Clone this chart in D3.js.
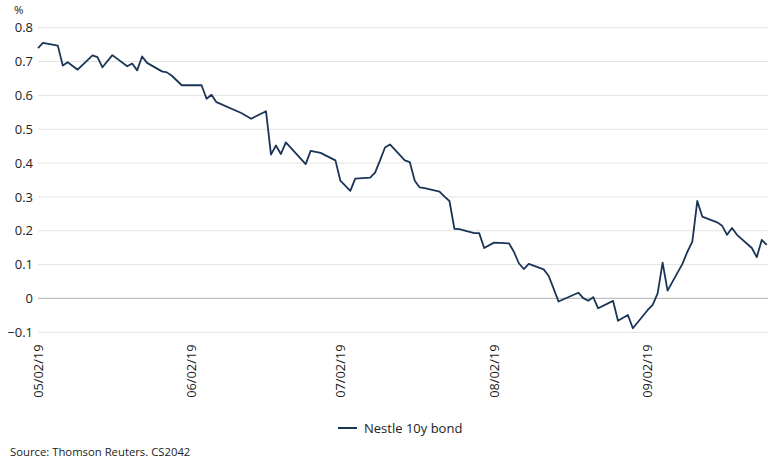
<!DOCTYPE html>
<html>
<head>
<meta charset="utf-8">
<script src="https://cdn.jsdelivr.net/npm/d3@7"></script>
<style>
  body { margin: 0; background: #fff; }
  svg { font-family: 'Open Sans', sans-serif; }
</style>
</head>
<body>
<div id="chart"></div>
<script>
// Nestle 10y bond yield, %, trading days May-Sep 2019
const dates = [
  '2019-05-02', '2019-05-03', '2019-05-06', '2019-05-07', '2019-05-08', '2019-05-10',
  '2019-05-13', '2019-05-14', '2019-05-15', '2019-05-17', '2019-05-20', '2019-05-21',
  '2019-05-22', '2019-05-23', '2019-05-24', '2019-05-27', '2019-05-28', '2019-05-29',
  '2019-05-31', '2019-06-04', '2019-06-05', '2019-06-06', '2019-06-07', '2019-06-12',
  '2019-06-14', '2019-06-17', '2019-06-18', '2019-06-19', '2019-06-20', '2019-06-21',
  '2019-06-25', '2019-06-26', '2019-06-28', '2019-07-01', '2019-07-02', '2019-07-04',
  '2019-07-05', '2019-07-08', '2019-07-09', '2019-07-10', '2019-07-11', '2019-07-12',
  '2019-07-15', '2019-07-16', '2019-07-17', '2019-07-18', '2019-07-19', '2019-07-22',
  '2019-07-23', '2019-07-24', '2019-07-25', '2019-07-26', '2019-07-29', '2019-07-30',
  '2019-07-31', '2019-08-02', '2019-08-05', '2019-08-06', '2019-08-07', '2019-08-08',
  '2019-08-09', '2019-08-12', '2019-08-13', '2019-08-14', '2019-08-15', '2019-08-19',
  '2019-08-20', '2019-08-21', '2019-08-22', '2019-08-23', '2019-08-26', '2019-08-27',
  '2019-08-29', '2019-08-30', '2019-09-02', '2019-09-03', '2019-09-04', '2019-09-05',
  '2019-09-06', '2019-09-09', '2019-09-10', '2019-09-11', '2019-09-12', '2019-09-13',
  '2019-09-16', '2019-09-17', '2019-09-18', '2019-09-19', '2019-09-20', '2019-09-23',
  '2019-09-24', '2019-09-25', '2019-09-26'
];
const values = [
  0.740, 0.755, 0.747, 0.688, 0.698, 0.676,
  0.718, 0.713, 0.683, 0.719, 0.686, 0.694,
  0.674, 0.715, 0.696, 0.671, 0.668, 0.658,
  0.630, 0.630, 0.590, 0.602, 0.580, 0.548,
  0.531, 0.553, 0.425, 0.452, 0.427, 0.461,
  0.397, 0.436, 0.430, 0.408, 0.348, 0.318,
  0.354, 0.357, 0.372, 0.408, 0.446, 0.455,
  0.408, 0.403, 0.348, 0.328, 0.326, 0.316,
  0.301, 0.288, 0.206, 0.205, 0.193, 0.193,
  0.149, 0.165, 0.163, 0.138, 0.104, 0.087,
  0.102, 0.086, 0.067, 0.030, -0.009, 0.017,
  0.001, -0.007, 0.004, -0.029, -0.007, -0.066,
  -0.049, -0.088, -0.034, -0.019, 0.015, 0.106,
  0.023, 0.102, 0.138, 0.168, 0.288, 0.242,
  0.225, 0.215, 0.188, 0.208, 0.188, 0.149,
  0.122, 0.173, 0.158
];
const yTicks = [-0.1, 0, 0.1, 0.2, 0.3, 0.4, 0.5, 0.6, 0.7, 0.8];
const xTicks = ['2019-05-02', '2019-06-02', '2019-07-02', '2019-08-02', '2019-09-02'];
const seriesName = 'Nestle 10y bond';
const sourceText = 'Source: Thomson Reuters. CS2042';

const width = 772, height = 465;
const parse = d3.timeParse('%Y-%m-%d');
const data = dates.map((d, i) => ({ date: parse(d), value: values[i] }));

const svg = d3.select('#chart')
  .append('svg')
  .attr('width', width)
  .attr('height', height);

const x = d3.scaleTime()
  .domain([parse('2019-05-02'), parse('2019-09-26')])
  .range([38, 766.7]);

const y = d3.scaleLinear()
  .domain([-0.1, 0.8])
  .range([332.3, 27.7]);

const gridRight = 768;

// Gridlines
svg.append('g')
  .selectAll('line')
  .data(yTicks)
  .join('line')
  .attr('x1', 38)
  .attr('x2', gridRight)
  .attr('y1', d => y(d))
  .attr('y2', d => y(d))
  .attr('stroke', d => d === 0 ? '#bfbfbf' : '#e3e3e3')
  .attr('stroke-width', d => d === 0 ? 1.3 : 1);

// Y axis labels
const yAxis = d3.axisLeft(y)
  .tickValues(yTicks)
  .tickSize(0)
  .tickPadding(0)
  .tickFormat(d => d === 0 ? '0' : d3.format('.1f')(d));

svg.append('g')
  .attr('transform', 'translate(33,0)')
  .call(yAxis)
  .call(g => g.select('.domain').remove())
  .selectAll('text')
  .attr('fill', '#222')
  .attr('font-size', '13px')
  .attr('font-family', "'Open Sans', sans-serif");

svg.append('text')
  .attr('x', 14)
  .attr('y', 14)
  .attr('fill', '#222')
  .attr('font-size', '11.5px')
  .text('%');

// X axis labels (rotated)
const fmt = d3.timeFormat('%m/%d/%y');
const xAxis = d3.axisBottom(x)
  .tickValues(xTicks.map(parse))
  .tickSize(0)
  .tickPadding(0)
  .tickFormat(fmt);

svg.append('g')
  .attr('transform', 'translate(0,344.5)')
  .call(xAxis)
  .call(g => g.select('.domain').remove())
  .selectAll('text')
  .attr('fill', '#222')
  .attr('font-size', '12.8px')
  .attr('font-family', "'Open Sans', sans-serif")
  .attr('text-anchor', 'end')
  .attr('transform', 'rotate(-90)')
  .attr('x', 0)
  .attr('y', 0)
  .attr('dx', 0)
  .attr('dy', '0.32em');

// Line
const line = d3.line()
  .x(d => x(d.date))
  .y(d => y(d.value));

svg.append('path')
  .datum(data)
  .attr('fill', 'none')
  .attr('stroke', '#1b3556')
  .attr('stroke-width', 1.8)
  .attr('stroke-linejoin', 'round')
  .attr('d', line);

// Legend
const legend = svg.append('g').attr('transform', 'translate(338,428)');
legend.append('line')
  .attr('x1', 0).attr('x2', 19)
  .attr('y1', 0).attr('y2', 0)
  .attr('stroke', '#1b3556')
  .attr('stroke-width', 2);
legend.append('text')
  .attr('x', 26)
  .attr('y', 0)
  .attr('dy', '0.35em')
  .attr('fill', '#222')
  .attr('font-size', '13px')
  .text(seriesName);

// Source
svg.append('text')
  .attr('x', 10)
  .attr('y', 456)
  .attr('fill', '#222')
  .attr('font-size', '11.3px')
  .text(sourceText);
</script>
</body>
</html>
